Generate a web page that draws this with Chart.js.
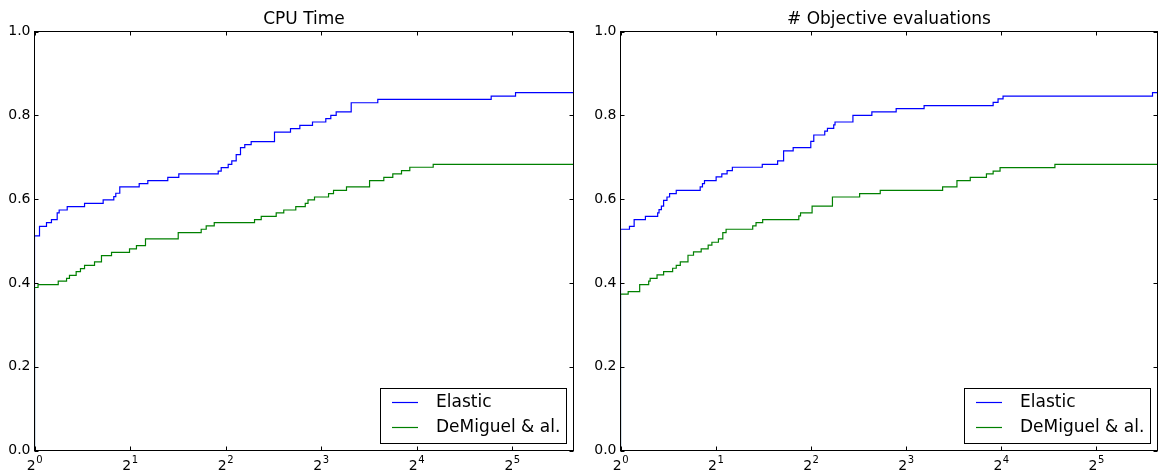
<!DOCTYPE html>
<html>
<head>
<meta charset="utf-8">
<script src="https://cdn.jsdelivr.net/npm/chart.js@4.4.1/dist/chart.umd.min.js"></script>
<style>
  body { margin: 0; background: #fff; }
  #wrap { position: relative; width: 1158px; height: 471px; }
  canvas { position: absolute; top: 0; }
</style>
</head>
<body>
<div id="wrap">
  <canvas id="cpuChart" width="579" height="471" style="left:0"></canvas>
  <canvas id="evalChart" width="579" height="471" style="left:579px"></canvas>
</div>
<script>
const seriesNames = ['Elastic', 'DeMiguel & al.'];
const seriesColors = ['#0000ff', '#008000'];
const xTickValues = [1, 2, 4, 8, 16, 32];
const xTickExponents = ['0', '1', '2', '3', '4', '5'];
const yTickValues = [0, 0.2, 0.4, 0.6, 0.8, 1.0];
const xMin = 1;
const xMax = 50;

// CPU time profile
const cpuElasticTau = [1, 1, 1.037, 1.091, 1.131, 1.179, 1.196, 1.268, 1.438, 1.646, 1.778, 1.804, 1.857,
    2.138, 2.276, 2.631, 2.850, 3.794, 3.877, 4.079, 4.187, 4.323, 4.460, 4.601, 4.819, 5.708, 6.411,
    6.861, 7.521, 8.283, 8.590, 8.932, 9.960, 12.08, 27.51, 32.83, 50];
const cpuElasticRho = [0, 0.512, 0.535, 0.544, 0.551, 0.567, 0.574, 0.582, 0.590, 0.598, 0.606, 0.614, 0.629,
    0.637, 0.644, 0.652, 0.660, 0.667, 0.675, 0.683, 0.691, 0.706, 0.723, 0.730, 0.737, 0.760, 0.768,
    0.776, 0.784, 0.792, 0.800, 0.808, 0.830, 0.838, 0.846, 0.854, 0.854];
const cpuDemiguelTau = [1, 1, 1.026, 1.188, 1.262, 1.289, 1.353, 1.396, 1.438, 1.546, 1.626, 1.749, 1.993,
    2.096, 2.238, 2.838, 3.353, 3.477, 3.686, 4.938, 5.184, 5.779, 6.105, 6.662, 7.136, 7.280, 7.632,
    8.450, 8.760, 9.626, 11.38, 12.62, 13.47, 14.35, 15.24, 18.06, 50];
const cpuDemiguelRho = [0, 0.389, 0.396, 0.404, 0.411, 0.418, 0.427, 0.434, 0.442, 0.450, 0.465, 0.473, 0.481,
    0.489, 0.505, 0.520, 0.528, 0.536, 0.544, 0.551, 0.559, 0.567, 0.574, 0.582, 0.590, 0.598, 0.605,
    0.613, 0.621, 0.629, 0.644, 0.652, 0.660, 0.668, 0.676, 0.683, 0.683];

// objective evaluations profile
const evalElasticTau = [1, 1, 1.0675, 1.1045, 1.199, 1.311, 1.324, 1.347, 1.369, 1.403, 1.430, 1.501, 1.787,
    1.817, 1.844, 2.007, 2.092, 2.174, 2.259, 2.809, 3.141, 3.281, 3.518, 4.0, 4.088, 4.428, 4.516,
    4.727, 4.772, 5.437, 6.241, 7.450, 9.131, 15.10, 15.65, 16.23, 48.22, 50];
const evalElasticRho = [0, 0.528, 0.535, 0.551, 0.559, 0.567, 0.575, 0.583, 0.597, 0.605, 0.613, 0.621, 0.629,
    0.637, 0.644, 0.653, 0.660, 0.668, 0.676, 0.683, 0.691, 0.715, 0.723, 0.738, 0.753, 0.762, 0.769,
    0.777, 0.784, 0.800, 0.808, 0.816, 0.823, 0.831, 0.839, 0.846, 0.854, 0.854];
const evalDemiguelTau = [1, 1, 1.0575, 1.150, 1.228, 1.241, 1.305, 1.369, 1.462, 1.501, 1.546, 1.635, 1.702,
    1.800, 1.894, 1.946, 2.041, 2.107, 2.158, 2.620, 2.684, 2.817, 3.666, 3.712, 4.038, 4.683, 5.709,
    6.634, 10.45, 11.60, 12.78, 14.38, 15.10, 15.88, 23.68, 50];
const evalDemiguelRho = [0, 0.373, 0.379, 0.396, 0.404, 0.411, 0.419, 0.427, 0.435, 0.442, 0.450, 0.466, 0.474,
    0.481, 0.490, 0.497, 0.505, 0.520, 0.528, 0.536, 0.544, 0.551, 0.560, 0.567, 0.583, 0.605, 0.613,
    0.621, 0.629, 0.644, 0.652, 0.660, 0.667, 0.675, 0.683, 0.683];

const FONT = '"DejaVu Sans", sans-serif';
Chart.defaults.font.family = FONT;
Chart.defaults.color = '#000';

function makeDataset(i, tau, rho) {
    return {
        label: seriesNames[i],
        data: tau.map((t, k) => ({ x: t, y: rho[k] })),
        borderColor: seriesColors[i],
        borderWidth: 1.2,
        pointRadius: 0,
        stepped: true,
        fill: false,
        order: 1 - i   // green drawn on top, like matplotlib
    };
}

// box, inward ticks, 2^k labels, title and legend in matplotlib style
const framePlugin = {
    id: 'frame',
    afterDraw(chart, args, opts) {
        const { ctx, chartArea: a, scales: { x, y } } = chart;
        ctx.save();
        ctx.strokeStyle = '#000';
        ctx.lineWidth = 1;
        ctx.beginPath();
        xTickValues.forEach(v => {
            const px = Math.round(x.getPixelForValue(v)) + 0.5;
            ctx.moveTo(px, a.bottom); ctx.lineTo(px, a.bottom - 4);
            ctx.moveTo(px, a.top); ctx.lineTo(px, a.top + 4);
        });
        yTickValues.forEach(v => {
            const py = Math.round(y.getPixelForValue(v)) + 0.5;
            ctx.moveTo(a.left, py); ctx.lineTo(a.left + 4, py);
            ctx.moveTo(a.right, py); ctx.lineTo(a.right - 4, py);
        });
        ctx.stroke();
        ctx.strokeRect(a.left, a.top, a.right - a.left, a.bottom - a.top);

        // x tick labels as 2 with a raised exponent
        ctx.fillStyle = '#000';
        ctx.textAlign = 'left';
        ctx.textBaseline = 'alphabetic';
        xTickValues.forEach((v, i) => {
            const px = x.getPixelForValue(v);
            ctx.font = '14px ' + FONT;
            const wBase = ctx.measureText('2').width;
            ctx.font = '10px ' + FONT;
            const wExp = ctx.measureText(xTickExponents[i]).width;
            const left = px - (wBase + wExp) / 2;
            ctx.font = '14px ' + FONT;
            ctx.fillText('2', left, a.bottom + 19);
            ctx.font = '10px ' + FONT;
            ctx.fillText(xTickExponents[i], left + wBase + 0.5, a.bottom + 12);
        });

        // title
        ctx.font = '17px ' + FONT;
        ctx.textAlign = 'center';
        ctx.fillText(opts.title, (a.left + a.right) / 2, a.top - 8);

        // legend
        ctx.textAlign = 'left';
        ctx.textBaseline = 'middle';
        const textW = Math.max(...chart.data.datasets.map(ds => ctx.measureText(ds.label).width));
        const boxW = Math.round(56 + textW + 6);
        const boxH = 55;
        const bx = Math.round(a.right - 8 - boxW);
        const by = Math.round(a.bottom - 8 - boxH);
        ctx.fillStyle = '#fff';
        ctx.fillRect(bx, by, boxW, boxH);
        ctx.strokeStyle = '#000';
        ctx.strokeRect(bx + 0.5, by + 0.5, boxW, boxH);
        chart.data.datasets.forEach((ds, i) => {
            const ly = Math.round(by + 14 + i * 24.5) + 0.5;
            ctx.strokeStyle = ds.borderColor;
            ctx.lineWidth = ds.borderWidth;
            ctx.beginPath();
            ctx.moveTo(bx + 12, ly);
            ctx.lineTo(bx + 38, ly);
            ctx.stroke();
            ctx.fillStyle = '#000';
            ctx.fillText(ds.label, bx + 56, ly);
        });
        ctx.restore();
    }
};

function makeChart(id, title, datasets, padLeft, padRight) {
    return new Chart(document.getElementById(id), {
        type: 'line',
        data: { datasets },
        options: {
            responsive: false,
            animation: false,
            devicePixelRatio: 1,
            layout: { padding: { top: 31.5, right: padRight, bottom: 0, left: padLeft } },
            plugins: {
                legend: { display: false },
                tooltip: { enabled: false },
                title: { display: false },
                frame: { title }
            },
            scales: {
                x: {
                    type: 'logarithmic',
                    min: xMin,
                    max: xMax,
                    grid: { display: false, drawTicks: false },
                    border: { display: false },
                    ticks: { display: false },
                    afterBuildTicks: scale => { scale.ticks = xTickValues.map(v => ({ value: v })); },
                    afterFit: scale => { scale.height = 20.5; }
                },
                y: {
                    min: 0,
                    max: 1,
                    grid: { display: false, drawTicks: false },
                    border: { display: false },
                    ticks: {
                        stepSize: 0.2,
                        padding: 4,
                        font: { size: 14 },
                        color: '#000',
                        callback: v => v.toFixed(1)
                    },
                    afterFit: scale => { scale.width = 34.5; }
                }
            }
        },
        plugins: [framePlugin]
    });
}

makeChart('cpuChart', 'CPU Time', [
    makeDataset(0, cpuElasticTau, cpuElasticRho),
    makeDataset(1, cpuDemiguelTau, cpuDemiguelRho)
], 0, 5.5);

makeChart('evalChart', '# Objective evaluations', [
    makeDataset(0, evalElasticTau, evalElasticRho),
    makeDataset(1, evalDemiguelTau, evalDemiguelRho)
], 7, 0.5);
</script>
</body>
</html>
